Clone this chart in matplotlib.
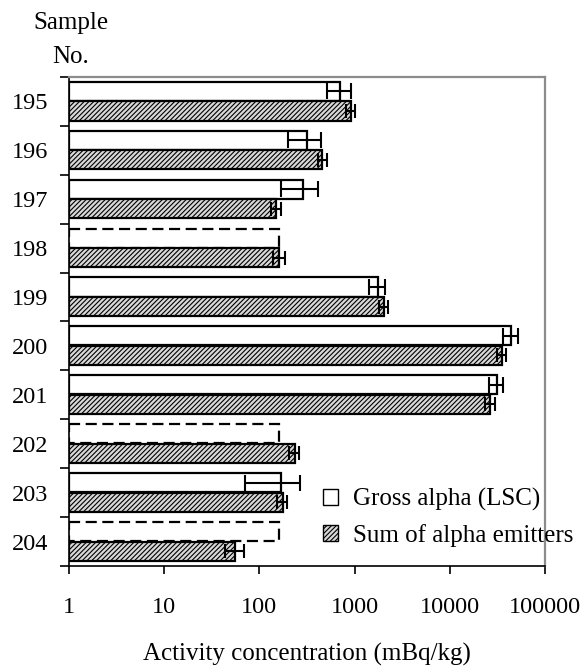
import matplotlib
matplotlib.use("Agg")
import matplotlib.pyplot as plt
import numpy as np
from matplotlib.patches import Patch

samples = ["195", "196", "197", "198", "199", "200", "201", "202", "203", "204"]
gross = [710, 320, 290, 160, 1750, 44000, 31000, 160, 170, 160]
gross_err = [200, 120, 120, 0, 350, 8000, 5500, 0, 100, 0]
gross_limit = [False, False, False, True, False, False, False, True, False, True]
sum_alpha = [910, 460, 150, 162, 2020, 35000, 26700, 235, 175, 56]
sum_err = [100, 50, 18, 22, 200, 4000, 3000, 28, 22, 13]
x_ticks = [1, 10, 100, 1000, 10000, 100000]

plt.rcParams['font.family'] = ['Liberation Serif', 'DejaVu Serif']
plt.rcParams['hatch.linewidth'] = 0.8
plt.rcParams['hatch.color'] = '#555555'
FS_TICK = 17.5
FS = 18

fig = plt.figure(figsize=(5.87, 6.70), dpi=100)
ax = fig.add_axes([69/587, 1-566/670, (545-69)/587, (566-77)/670])

n = len(samples)
ypos = np.arange(n)
h = 0.39
g = np.array(gross, dtype=float)
s = np.array(sum_alpha, dtype=float)
HATCH = '///////'

for i in range(n):
    ls = (0, (5, 2.5)) if gross_limit[i] else '-'
    ax.barh(ypos[i] - 0.205, g[i] - 1, left=1, height=h, facecolor='white',
            edgecolor='black', linewidth=1.6, linestyle=ls, zorder=2)
bars = ax.barh(ypos + 0.195, s - 1, left=1, height=h, facecolor='#d8d8d8',
               edgecolor='black', linewidth=1.6, hatch=HATCH, zorder=2)
for p in bars:
    if hasattr(p, 'set_hatchcolor'):
        p.set_hatchcolor('#555555')

ge = np.array(gross_err, dtype=float)
mask = ge > 0
ax.errorbar(g[mask], (ypos - 0.205)[mask], xerr=ge[mask], fmt='none', ecolor='black',
            elinewidth=1.5, capsize=5.5, capthick=1.5, zorder=3)
ax.errorbar(s, ypos + 0.195, xerr=np.array(sum_err, dtype=float), fmt='none', ecolor='black',
            elinewidth=1.5, capsize=4.8, capthick=1.5, zorder=3)

ax.set_xscale('log')
ax.set_xlim(1, 100000)
ax.set_ylim(n - 0.5, -0.5)
ax.set_xticks(x_ticks)
ax.set_xticklabels([str(t) for t in x_ticks], fontsize=FS_TICK)
ax.xaxis.set_minor_locator(matplotlib.ticker.NullLocator())
ax.tick_params(axis='x', which='major', direction='out', length=6, width=1.2, pad=16)

ax.set_yticks(ypos)
ax.set_yticklabels(samples, fontsize=FS_TICK)
ax.set_yticks(np.arange(n + 1) - 0.5, minor=True)
ax.tick_params(axis='y', which='major', length=0, pad=15)
ax.tick_params(axis='y', which='minor', direction='out', length=6.5, width=1.2)

for side in ['left', 'bottom']:
    ax.spines[side].set_color('black')
    ax.spines[side].set_linewidth(1.2)
for side in ['top', 'right']:
    ax.spines[side].set_color('#8c8c8c')
    ax.spines[side].set_linewidth(1.6)

ax.set_xlabel('Activity concentration (mBq/kg)', fontsize=FS, labelpad=18)

fig.text(33/587, 1-23/670, 'Sample', fontsize=FS, ha='left', va='center')
fig.text(52/587, 1-57/670, 'No.', fontsize=FS, ha='left', va='center')

hp = Patch(facecolor='#d8d8d8', edgecolor='black', linewidth=1.0, hatch=HATCH)
if hasattr(hp, 'set_hatchcolor'):
    hp.set_hatchcolor('#555555')
handles = [Patch(facecolor='white', edgecolor='black', linewidth=1.0), hp]
leg = fig.legend(handles, ['Gross alpha (LSC)', 'Sum of alpha emitters'],
                 loc='upper left', bbox_to_anchor=(323/587, 1-488/670),
                 frameon=False, fontsize=FS, handlelength=0.6, handleheight=0.6,
                 handletextpad=0.6, labelspacing=0.5, borderpad=0, borderaxespad=0)

fig.savefig('out.png', dpi=100)
